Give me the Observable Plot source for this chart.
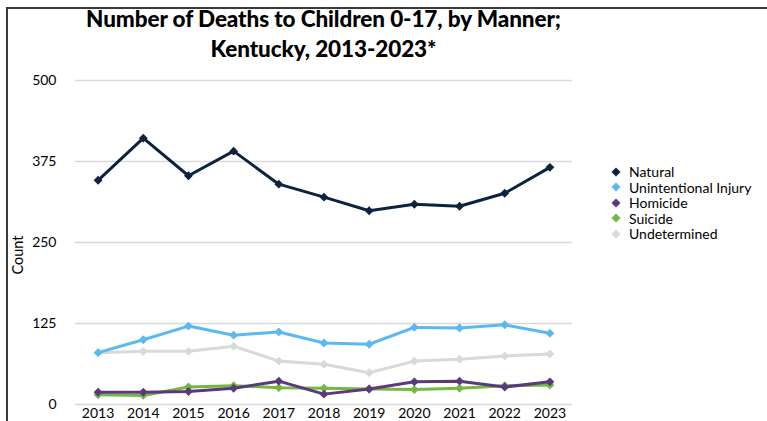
<!DOCTYPE html>
<html>
<head>
<meta charset="utf-8">
<script src="https://cdn.jsdelivr.net/npm/d3@7"></script>
<script src="https://cdn.jsdelivr.net/npm/@observablehq/plot@0.6"></script>
<style>
  html, body { margin: 0; padding: 0; background: #fff; }
  #wrap { position: relative; width: 767px; height: 421px; overflow: hidden; font-family: Lato, "Open Sans", sans-serif; background:#fff; }
  #wrap svg { position: absolute; left: 0; top: 0; }
  .border-top { position: absolute; left: 6px; top: 7px; width: 761px; height: 2px; background: #3a3a3a; }
  .border-left { position: absolute; left: 6px; top: 7px; width: 2px; height: 414px; background: #3a3a3a; }
  #title { position: absolute; left: 60px; width: 527px; top: 4px; text-align: center; font-weight: 900; font-size: 22.5px; line-height: 30px; color: #000; letter-spacing: -0.1px; }
  #ylabel { position: absolute; left: 17px; top: 255px; transform: translate(-50%, -50%) rotate(-90deg); font-size: 14.5px; color: #000; white-space: nowrap; }
  #legend { position: absolute; left: 610px; top: 164px; font-size: 14px; color: #000; }
  #legend .row { height: 15.5px; line-height: 15.5px; display: flex; align-items: center; white-space: nowrap; }
  #legend svg { position: static; margin-right: 7px; }
</style>
</head>
<body>
<div id="wrap">
  <div class="border-top"></div>
  <div class="border-left"></div>
  <div id="title">Number of Deaths to Children 0-17, by Manner;<br>Kentucky, 2013-2023*</div>
  <div id="ylabel">Count</div>
  <div id="legend"></div>
</div>
<script>
const years = [2013, 2014, 2015, 2016, 2017, 2018, 2019, 2020, 2021, 2022, 2023];
const natural = [346, 411, 353, 391, 340, 320, 299, 309, 306, 326, 366];
const unintentional = [80, 100, 121, 107, 112, 95, 93, 119, 118, 123, 110];
const homicide = [19, 19, 20, 25, 36, 16, 24, 35, 36, 27, 35];
const suicide = [15, 14, 27, 29, 26, 25, 24, 23, 25, 29, 30];
const undetermined = [80, 82, 82, 90, 67, 62, 49, 67, 70, 75, 78];
const seriesNames = ["Natural", "Unintentional Injury", "Homicide", "Suicide", "Undetermined"];
const seriesColors = ["#0c2340", "#5ab9f0", "#5b3a7a", "#74b843", "#d9d9d9"];
const yTicks = [0, 125, 250, 375, 500];

const seriesValues = [natural, unintentional, homicide, suicide, undetermined];
const rows = seriesNames.map((name, i) => years.map((year, j) => ({ series: name, year, value: seriesValues[i][j] })));
const drawOrder = [4, 3, 2, 1, 0];

const marks = [
  Plot.ruleY(yTicks, { stroke: "#d9d9d9", strokeWidth: 1.5 }),
  Plot.axisY({ ticks: yTicks, tickSize: 0, tickPadding: 19, label: null, fontSize: 14 }),
  Plot.axisX({ ticks: years, tickFormat: d => String(d), tickSize: 0, tickPadding: 4, label: null, fontSize: 14 })
];
for (const i of drawOrder) {
  marks.push(Plot.line(rows[i], { x: "year", y: "value", stroke: "series", strokeWidth: 3, strokeLinejoin: "round" }));
  marks.push(Plot.dot(rows[i], { x: "year", y: "value", fill: "series", symbol: "diamond2", r: 4, stroke: "none" }));
}

const chart = Plot.plot({
  width: 767,
  height: 421,
  marginLeft: 75,
  marginRight: 195,
  marginTop: 80,
  marginBottom: 17,
  style: { fontFamily: "Lato, 'Open Sans', sans-serif", fontSize: "14px", color: "#000", background: "transparent", overflow: "visible" },
  x: { domain: [2012.5, 2023.5] },
  y: { domain: [0, 500] },
  color: { domain: seriesNames, range: seriesColors },
  marks
});
const wrap = document.getElementById("wrap");
wrap.insertBefore(chart, wrap.firstChild);

const legend = document.getElementById("legend");
seriesNames.forEach((name, i) => {
  const row = document.createElement("div");
  row.className = "row";
  row.innerHTML = `<svg width="12" height="12" viewBox="-6 -6 12 12"><path d="M0,-4.5L4.5,0L0,4.5L-4.5,0Z" fill="${seriesColors[i]}"/></svg><span>${name}</span>`;
  legend.appendChild(row);
});
</script>
</body>
</html>
